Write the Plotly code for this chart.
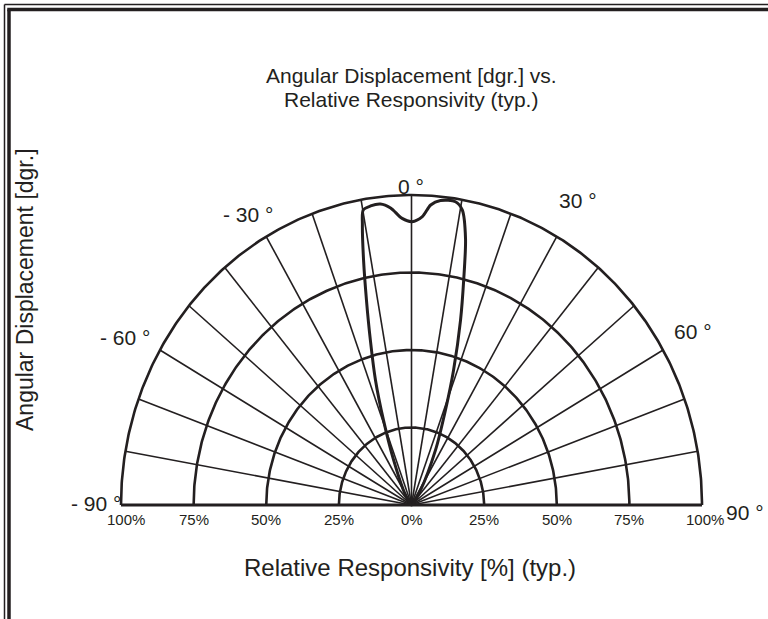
import numpy as np
import plotly.graph_objects as go

# ---------------- data ----------------
angle_deg = [-35, -33, -23, -19.4, -17.1, -14.9, -13.2, -11.8, -10.6, -9.9, -8.3,
             -6.3, -4.3, -2.0, 0.1, 2.3, 3.9, 5.8, 8.8, 10.4, 12.2, 13.9, 15.8,
             18.4, 20.9, 25, 33, 35]
responsivity_pct = [0, 3.8, 15.8, 29.1, 42.2, 55.1, 67.9, 80.7, 91.9, 96.6, 97.5,
                    97.7, 96.1, 92.5, 91.4, 93.1, 97.0, 98.7, 99.0, 96.8, 88.0, 74.8,
                    62.0, 45.9, 32.8, 19.6, 5.7, 0]

grid_pct = [25, 50, 75, 100]
spoke_deg = list(range(-80, 81, 10))
angle_tick_deg = [-90, -60, -30, 0, 30, 60, 90]
angle_tick_text = ["- 90 °", "- 60 °", "- 30 °", "0 °", "30 °", "60 °", "90 °"]
pct_tick_pos = [-100, -75, -50, -25, 0, 25, 50, 75, 100]
pct_tick_text = ["100%", "75%", "50%", "25%", "0%", "25%", "50%", "75%", "100%"]

title_lines = ["Angular Displacement [dgr.] vs.", "Relative Responsivity (typ.)"]
y_title = "Angular Displacement [dgr.]"
x_title = "Relative Responsivity [%] (typ.)"

# ---------------- layout constants ----------------
W, H = 768, 619
CX, CY = 411.5, 505.0      # pixel centre of the half-polar diagram
RX, RY = 290.5, 310.0      # pixel length of 100 % horizontally / vertically
INK = "#231f20"
FONT = "Liberation Sans, Arial, sans-serif"

x_range = [-CX / RX, (W - CX) / RX]
y_range = [-(H - CY) / RY, CY / RY]


def px(xp):
    return xp / W


def py(yp):
    return 1 - yp / H


def to_xy(r_pct, a_deg):
    r = np.asarray(r_pct, dtype=float) / 100.0
    a = np.radians(np.asarray(a_deg, dtype=float))
    return r * np.sin(a), r * np.cos(a)


fig = go.Figure()

# spokes every 10 degrees
for a in spoke_deg:
    sx, sy = to_xy([0, 100], [a, a])
    fig.add_trace(go.Scatter(x=sx, y=sy, mode="lines",
                             line=dict(color=INK, width=1.6),
                             hoverinfo="skip", showlegend=False))

# grid half-circles
theta = np.linspace(-90, 90, 361)
for g in grid_pct:
    gx, gy = to_xy(np.full_like(theta, g), theta)
    fig.add_trace(go.Scatter(x=gx, y=gy, mode="lines",
                             line=dict(color=INK, width=2.6),
                             hoverinfo="skip", showlegend=False))

# base line (-90 .. 90)
bx, by = to_xy([100, 100], [-90, 90])
fig.add_trace(go.Scatter(x=bx, y=by, mode="lines",
                         line=dict(color=INK, width=3),
                         hoverinfo="skip", showlegend=False))

# responsivity curve
cx, cy = to_xy(responsivity_pct, angle_deg)
fig.add_trace(go.Scatter(x=cx, y=cy, mode="lines",
                         line=dict(color=INK, width=3, shape="spline", smoothing=0.8),
                         name="Relative responsivity", showlegend=False))

annotations = []
# angle labels (pixel positions of label centres)
angle_label_px = {-90: (96, 503), -60: (125, 337), -30: (248, 215), 0: (411, 186),
                  30: (578, 201), 60: (693, 331), 90: (745, 512)}
for a, t in zip(angle_tick_deg, angle_tick_text):
    xp, yp = angle_label_px[a]
    annotations.append(dict(x=px(xp), y=py(yp), xref="paper", yref="paper",
                            text=t, showarrow=False, xanchor="center", yanchor="middle",
                            font=dict(family=FONT, size=21, color=INK)))

# percentage labels under base line
for p, t in zip(pct_tick_pos, pct_tick_text):
    xs = 5 if p == -100 else (3 if p == 100 else 0)
    annotations.append(dict(x=p / 100.0, y=-(519 - CY) / RY, xref="x", yref="y",
                            text=t, showarrow=False, xanchor="center", yanchor="middle",
                            xshift=xs,
                            font=dict(family=FONT, size=15, color=INK)))

# titles
annotations.append(dict(x=px(411), y=py(75), xref="paper", yref="paper",
                        text=title_lines[0], showarrow=False, yanchor="middle",
                        font=dict(family=FONT, size=21, color=INK)))
annotations.append(dict(x=px(411), y=py(100), xref="paper", yref="paper",
                        text=title_lines[1], showarrow=False, yanchor="middle",
                        font=dict(family=FONT, size=21, color=INK)))
annotations.append(dict(x=px(25), y=py(290), xref="paper", yref="paper",
                        text=y_title, showarrow=False, textangle=-90,
                        xanchor="center", yanchor="middle",
                        font=dict(family=FONT, size=23, color=INK)))
annotations.append(dict(x=px(410), y=py(567), xref="paper", yref="paper",
                        text=x_title, showarrow=False, yanchor="middle",
                        font=dict(family=FONT, size=24, color=INK)))

# double frame: only the left and top edges are inside the picture
shapes = [
    dict(type="line", xref="paper", yref="paper",
         x0=px(4.5), y0=0, x1=px(4.5), y1=py(4.5),
         line=dict(color=INK, width=1.5)),
    dict(type="line", xref="paper", yref="paper",
         x0=px(4.5), y0=py(4.5), x1=1, y1=py(4.5),
         line=dict(color=INK, width=1.5)),
    dict(type="line", xref="paper", yref="paper",
         x0=px(9), y0=0, x1=px(9), y1=py(9.5),
         line=dict(color=INK, width=3.5)),
    dict(type="line", xref="paper", yref="paper",
         x0=px(7.25), y0=py(9.5), x1=1, y1=py(9.5),
         line=dict(color=INK, width=3.5)),
]

fig.update_layout(
    width=W, height=H,
    margin=dict(l=0, r=0, t=0, b=0),
    paper_bgcolor="white", plot_bgcolor="white",
    xaxis=dict(range=x_range, visible=False, fixedrange=True),
    yaxis=dict(range=y_range, visible=False, fixedrange=True),
    annotations=annotations,
    shapes=shapes,
    showlegend=False,
)

fig.write_html(
    "out.html",
    config={"displayModeBar": False},
    post_script="document.documentElement.style.margin='0';"
                "document.body.style.margin='0';"
                "document.body.style.overflow='hidden';",
)
